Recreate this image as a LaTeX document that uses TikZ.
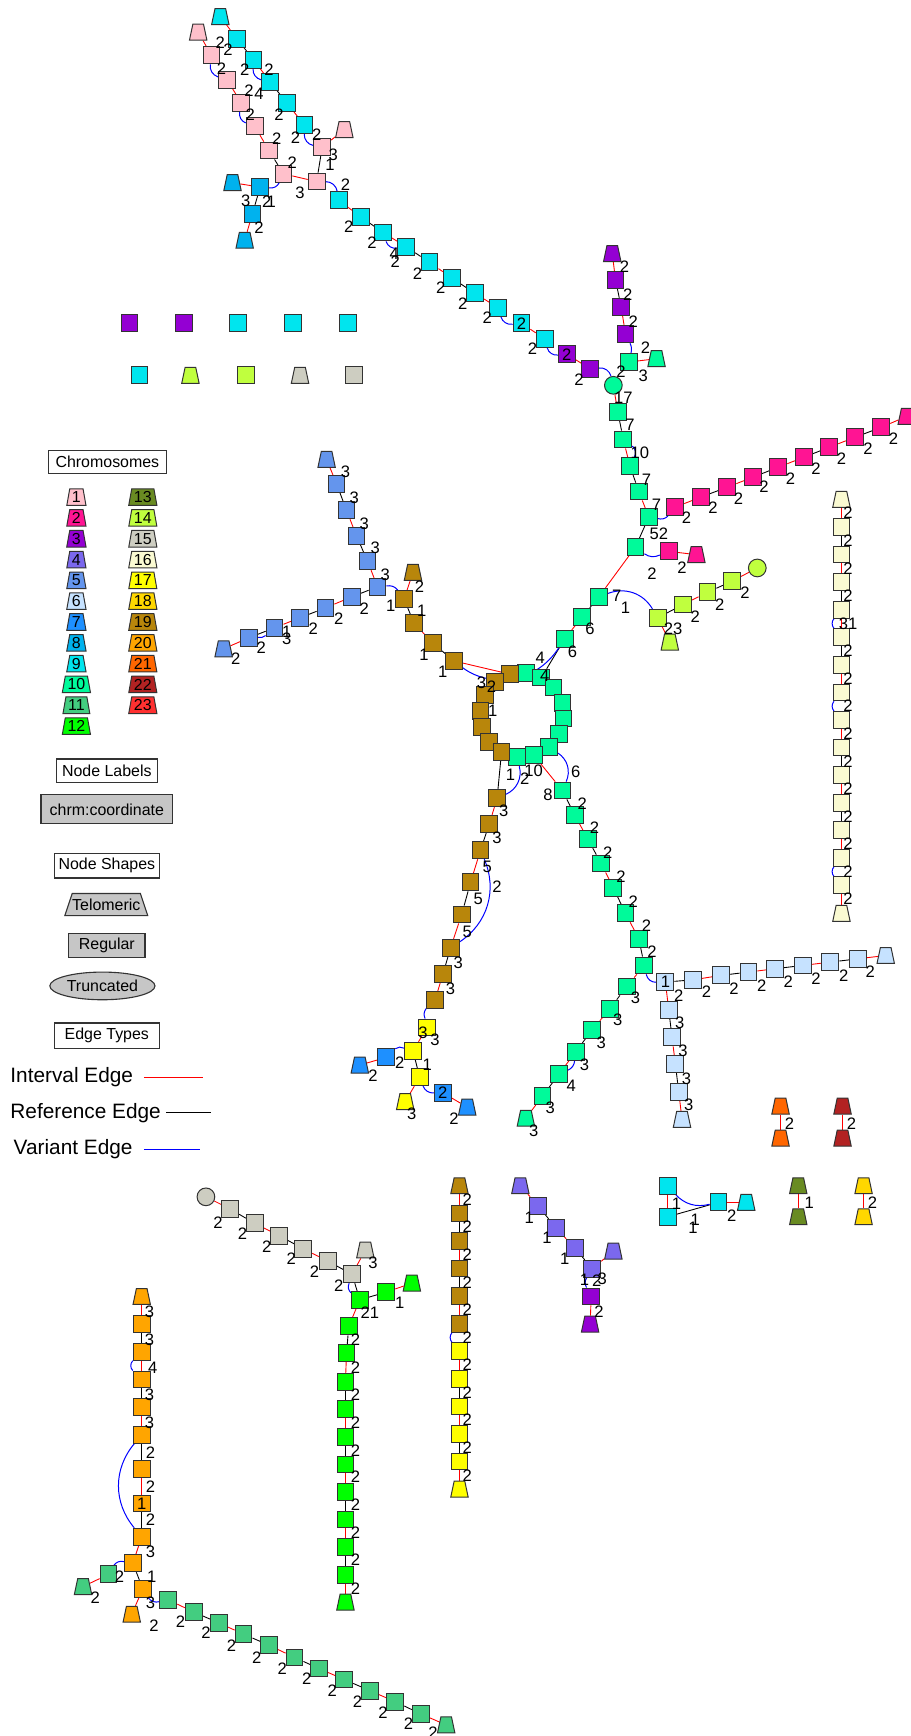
\documentclass[tikz,border=0pt]{standalone}
\usepackage{fontspec}
\setmainfont{Liberation Sans}
\usetikzlibrary{shapes.geometric, backgrounds}
\definecolor{chr1}{RGB}{255,192,203}
\definecolor{chr2}{RGB}{255,20,147}
\definecolor{chr3}{RGB}{148,0,211}
\definecolor{chr4}{RGB}{123,104,238}
\definecolor{chr5}{RGB}{100,149,237}
\definecolor{chr6}{RGB}{198,226,255}
\definecolor{chr7}{RGB}{30,144,255}
\definecolor{chr8}{RGB}{0,178,238}
\definecolor{chr9}{RGB}{0,229,238}
\definecolor{chr10}{RGB}{0,250,154}
\definecolor{chr11}{RGB}{67,205,128}
\definecolor{chr12}{RGB}{0,255,0}
\definecolor{chr13}{RGB}{105,139,34}
\definecolor{chr14}{RGB}{192,255,62}
\definecolor{chr15}{RGB}{205,205,193}
\definecolor{chr16}{RGB}{250,250,210}
\definecolor{chr17}{RGB}{255,255,0}
\definecolor{chr18}{RGB}{255,215,0}
\definecolor{chr19}{RGB}{184,134,11}
\definecolor{chr20}{RGB}{255,165,0}
\definecolor{chr21}{RGB}{255,102,0}
\definecolor{chr22}{RGB}{178,34,34}
\definecolor{chr23}{RGB}{255,48,48}
\tikzset{
  seg/.style={draw=black!80, line width=0.45pt, minimum size=7.6pt, inner sep=0pt},
  telo/.style={trapezium, trapezium angle=78, draw=black!80, line width=0.45pt,
               inner xsep=2.4pt, inner ysep=3.6pt},
  trunc/.style={circle, draw=black!80, line width=0.45pt, minimum size=8pt, inner sep=0pt},
  ie/.style={draw=red, line width=0.4pt},
  re/.style={draw=black, line width=0.4pt},
  ve/.style={draw=blue, line width=0.45pt},
  lab/.style={inner sep=0pt, font=\fontsize{7.5}{8}\selectfont},
  keybox/.style={trapezium, trapezium angle=75, trapezium stretches=true, draw=black!80,
                 line width=0.45pt, minimum height=7.5pt, inner xsep=1pt, inner ysep=0pt,
                 font=\fontsize{7.2}{8}\selectfont},
  legbox/.style={draw=black!80, line width=0.5pt, fill=white, inner sep=0pt,
                 font=\fontsize{7.2}{8}\selectfont},
  legtext/.style={inner sep=0pt, anchor=west, font=\fontsize{9.4}{11}\selectfont},
}

\begin{document}
\begin{tikzpicture}[x=0.5pt, y=-0.5pt]
  \useasboundingbox (0,0) rectangle (822,1568);

  % --- Legend ---
  \node[legbox, minimum width=53pt, minimum height=10.5pt] (chrhead) at (97,417) {Chromosomes};
  \foreach \i in {1,...,12}
    \node[keybox, fill=chr\i] (key\i) at (69,{449+18.8*(\i-1)}) {\i};
  \foreach \i in {13,...,23}
    \node[keybox, fill=chr\i] (key\i) at (129,{449+18.8*(\i-13)}) {\i};
  \node[legbox, minimum width=45.5pt, minimum height=10.5pt] (labhead) at (96.5,696) {Node Labels};
  \node[legbox, fill=gray!45, minimum width=59.5pt, minimum height=13pt] (coordkey) at (96.5,731) {chrm:coordinate};
  \node[legbox, minimum width=47.5pt, minimum height=11pt] (shapehead) at (96.5,782) {Node Shapes};
  \node[legbox, fill=gray!45, trapezium, trapezium angle=58, trapezium stretches=true,
        minimum height=10pt] (telokey) at (96,817) {Telomeric};
  \node[legbox, fill=gray!45, minimum width=34.5pt, minimum height=11pt] (regkey) at (96.5,854) {Regular};
  \node[legbox, fill=gray!45, ellipse, minimum width=47.5pt, minimum height=12.5pt] (trunckey) at (92.5,890.5) {Truncated};
  \node[legbox, minimum width=47.5pt, minimum height=11.5pt] (edgehead) at (96.5,935.5) {Edge Types};
  \node[legtext] (ivtext) at (9,973) {Interval Edge};
  \node[legtext] (rftext) at (9,1005) {Reference Edge};
  \node[legtext] (vatext) at (12,1038) {Variant Edge};
  \coordinate (iva) at (130,973);  \coordinate (ivb) at (183,973);
  \coordinate (rfa) at (150,1005); \coordinate (rfb) at (191,1005);
  \coordinate (vaa) at (130,1038); \coordinate (vab) at (181,1038);
  \draw[red, line width=0.6pt] (iva) -- (ivb);
  \draw[black, line width=0.6pt] (rfa) -- (rfb);
  \draw[blue, line width=0.6pt] (vaa) -- (vab);

  % --- Single nodes ---
  \node[seg, fill=chr3] (iso1) at (117,292) {};
  \node[seg, fill=chr3] (iso2) at (166,292) {};
  \node[seg, fill=chr9] (iso3) at (215,292) {};
  \node[seg, fill=chr9] (iso4) at (265,292) {};
  \node[seg, fill=chr9] (iso5) at (314,292) {};
  \node[seg, fill=chr9] (iso6) at (126,339) {};
  \node[telo, fill=chr14] (iso7) at (172,339) {};
  \node[seg, fill=chr14] (iso8) at (222,339) {};
  \node[telo, fill=chr15] (iso9) at (271,339) {};
  \node[seg, fill=chr15] (iso10) at (320,339) {};

  % --- Segments ---
  \foreach \n/\x/\y in {pa/191/50, pb/205/72, pc/218/93, pd/230/114, pe/243/136,
                        pf/256/157, pg/286/164, ph/291/133}
    \node[seg, fill=chr1] (\n) at (\x,\y) {};
  \foreach \n/\x/\y in {wa/610/458, wb/633/449, wc/657/440, wd/680/431, we/703/422,
                        wf/726/413, wg/749/404, wh/772/395, wi/796/386, wx/604/498}
    \node[seg, fill=chr2] (\n) at (\x,\y) {};
  \foreach \n/\x/\y in {ua/512/320, ub/533/333, uc/556/253, ud/561/277, ue/565/302, c3x/534/1171}
    \node[seg, fill=chr3] (\n) at (\x,\y) {};
  \foreach \n/\x/\y in {o1/486/1089, o2/502/1109, o3/519/1127, o4/535/1146}
    \node[seg, fill=chr4] (\n) at (\x,\y) {};
  \foreach \n/\x/\y in {v1/304/437, v2/313/461, v3/322/484, v4/332/507, v5/341/530,
                        v6/318/539, v7/294/549, v8/271/558, v9/248/567, v10/225/576}
    \node[seg, fill=chr5] (\n) at (\x,\y) {};
  \foreach \n/\x/\y in {xa/601/887, xb/626/885, xc/651/881, xd/676/878, xe/700/875, xf/725/872,
                        xg/750/869, xh/775/866, xi/604/912, xj/607/937, xk/610/961, xl/613/986}
    \node[seg, fill=chr6] (\n) at (\x,\y) {};
  \foreach \n/\x/\y in {g7a/349/955, g7b/400/987}
    \node[seg, fill=chr7] (\n) at (\x,\y) {};
  \foreach \n/\x/\y in {e1/235/169, e2/228/193}
    \node[seg, fill=chr8] (\n) at (\x,\y) {};
  \foreach \n/\x/\y in {n1/214/35, n2/229/54, n3/244/74, n4/259/93, n5/275/113, n6/306/181,
                        n7/326/196, n8/346/210, n9/367/223, n10/388/237, n11/408/251,
                        n12/429/265, n13/450/278, n14/471/292, n15/492/306,
                        c9a/603/1071, c9b/603/1099, c9c/649/1086}
    \node[seg, fill=chr9] (\n) at (\x,\y) {};
  \foreach \n/\x/\y in {tb/568/327, tc/558/372, td/563/397, te/569/421, tf/577/444, tg/586/467,
                        th/574/494, ti/541/539, tj/526/557, tk/510/577,
                        r1/475/608, r2/489/612, r3/500/621, r4/508/635, r5/509/649,
                        r6/505/663, r7/496/675, r8/482/682, r9/467/684,
                        da/508/714, db/519/736, dc/531/758, dd/543/780, de/554/802,
                        df/565/825, dg/577/848, dh/582/872,
                        la/566/891, lb/551/911, lc/535/930, ld/520/950, le/505/970, lf/490/990}
    \node[seg, fill=chr10] (\n) at (\x,\y) {};
  \foreach \n/\x/\y in {k0/98/1422, k1/152/1445, k2/175/1456, k3/198/1466, k4/220/1476,
                        k5/243/1486, k6/266/1497, k7/288/1507, k8/311/1517, k9/334/1527,
                        k10/357/1537, k11/380/1548}
    \node[seg, fill=chr11] (\n) at (\x,\y) {};
  \foreach \n/\x/\y in {m1/325/1174, m2/349/1167, m3/315/1198, m4/313/1222}
    \node[seg, fill=chr12] (\n) at (\x,\y) {};
  \foreach \k in {5,...,12}
    \node[seg, fill=chr12] (m\k) at (312,{1248+24.9*(\k-5)}) {};
  \foreach \n/\x/\y in {fa/594/558, fb/617/546, fc/639/535, fd/661/525}
    \node[seg, fill=chr14] (\n) at (\x,\y) {};
  \foreach \n/\x/\y in {h1/208/1092, h2/230/1105, h3/252/1116, h4/274/1128, h5/296/1139, h6/318/1151}
    \node[seg, fill=chr15] (\n) at (\x,\y) {};
  \foreach \k in {1,...,14}
    \node[seg, fill=chr16] (s\k) at (760,{476+24.9*(\k-1)}) {};
  \foreach \n/\x/\y in {y1/386/928, y2/373/949, y3/379/973}
    \node[seg, fill=chr17] (\n) at (\x,\y) {};
  \foreach \n/\x/\y in {b1/365/541, b2/374/563, b3/391/581, b4/410/597, b5/461/609, b6/447/616,
                        b7/438/628, b8/434/642, b9/435/657, b10/442/670, b11/453/679,
                        b12/449/721, b13/442/744, b14/434/768, b15/425/797, b16/417/826,
                        b17/407/856, b18/400/880, b19/393/903}
    \node[seg, fill=chr19] (\n) at (\x,\y) {};
  \foreach \k in {1,...,5}
    \node[seg, fill=chr19] (q\k) at (415,{1096+24.9*(\k-1)}) {};
  \foreach \k in {6,...,10}
    \node[seg, fill=chr17] (q\k) at (415,{1096+24.9*(\k-1)}) {};
  \foreach \n/\x/\y in {z1/128/1196, z2/128/1221, z3/128/1246, z4/128/1271, z5/128/1296,
                        z6/128/1327, z7/128/1358, z8/128/1388, z9/120/1412, z10/129/1435}
    \node[seg, fill=chr20] (\n) at (\x,\y) {};

  % --- Telomeric ends ---
  \foreach \n/\x/\y/\c in {pta/179/29/chr1, ptb/311/117/chr1, wt/819/376/chr2, wxt/629/501/chr2,
                           ut/553/229/chr3, c3xt/533/1196/chr3, ot1/470/1071/chr4, ot2/554/1130/chr4,
                           vt1/295/415/chr5, vt2/202/586/chr5, xt1/800/863/chr6, xt2/616/1011/chr6,
                           g7t1/325/962/chr7, g7t2/422/1000/chr7, et1/210/165/chr8, et2/221/217/chr8,
                           nt/199/15/chr9, c9t/674/1086/chr9, tt/593/324/chr10, lt/475/1010/chr10,
                           kt0/75/1433/chr11, kt/403/1558/chr11, mt1/372/1159/chr12, mt2/312/1447/chr12,
                           k13a/721/1071/chr13, k13b/721/1099/chr13, ft/605/580/chr14,
                           ht/330/1129/chr15, st1/760/451/chr16, st2/760/825/chr16,
                           yt/366/995/chr17, qt2/415/1345/chr17, k18a/780/1071/chr18, k18b/780/1099/chr18,
                           bt/373/517/chr19, qt1/415/1071/chr19, zt1/128/1171/chr20, zt2/119/1458/chr20,
                           k21a/705/999/chr21, k21b/705/1028/chr21, k22a/761/999/chr22, k22b/761/1028/chr22}
    \node[telo, fill=\c] (\n) at (\x,\y) {};

  % --- Truncated ends ---
  \node[trunc, fill=chr10] (ta) at (554,348) {};
  \node[trunc, fill=chr14] (fz) at (684,513) {};
  \node[trunc, fill=chr15] (hz) at (186,1081) {};

  % --- Edges ---
  \begin{scope}[on background layer]
    \foreach \a/\b in {pta/pa, pb/pc, pd/pe, pf/pg, ph/ptb, et1/e1, e2/et2, nt/n1, n2/n3, n4/n5,
                       n6/n7, n8/n9, n10/n11, n12/n13, n14/n15, ua/ub, ut/uc, ud/ue, tb/tt, ta/tc,
                       td/te, tf/tg, th/ti, tj/tk, r2/r3, r4/r5, r6/r7, r8/r9, r8/da, db/dc, dd/de,
                       df/dg, dh/la, lb/lc, ld/le, lf/lt, wa/wb, wc/wd, we/wf, wg/wh, wi/wt, wx/wxt,
                       fa/ft, fb/fc, fd/fz, xa/xi, xj/xk, xl/xt2, xb/xc, xd/xe, xf/xg, xh/xt1,
                       vt1/v1, v2/v3, v4/v5, v6/v7, v8/v9, v10/vt2, bt/b1, b2/b3, b4/b5, b6/b7,
                       b8/b9, b10/b11, b12/b13, b14/b15, b16/b17, b18/b19, y1/y2, y3/yt,
                       g7a/g7t1, g7b/g7t2, c9a/c9b, c9c/c9t, k13a/k13b, k18a/k18b, k21a/k21b,
                       k22a/k22b, hz/h1, h2/h3, h4/h5, h6/ht, m2/mt1, m1/m3, m4/m5, m6/m7, m8/m9,
                       m10/m11, m12/mt2, ot1/o1, o2/o3, o4/ot2, c3x/c3xt, zt1/z1, z2/z3, z4/z5,
                       z6/z7, z8/z9, z10/zt2, k0/kt0, k1/k2, k3/k4, k5/k6, k7/k8, k9/k10, k11/kt,
                       qt1/q1, q2/q3, q4/q5, q6/q7, q8/q9, q10/qt2, st1/s1, s2/s3, s4/s5, s6/s7,
                       s8/s9, s10/s11, s12/s13, s14/st2}
      \draw[ie] (\a) -- (\b);
    \foreach \a/\b in {pe/pf, ph/pg, e1/e2, n1/n2, n3/n4, n7/n8, n9/n10, n11/n12, uc/ud, tc/td,
                       te/tf, tg/th, ti/tj, tk/r2, r1/r2, r3/r4, r5/r6, r7/r8, da/db, dc/dd, de/df,
                       dg/dh, la/lb, lc/ld, le/lf, wb/wc, wd/we, wf/wg, wh/wi, fa/fb, fc/fd, xa/xb,
                       xc/xd, xe/xf, xg/xh, xi/xj, xk/xl, v1/v2, v3/v4, v5/v6, v7/v8, v9/v10,
                       b1/b2, b3/b4, b5/b6, b7/b8, b9/b10, b11/b12, b13/b14, b15/b16, b17/b18,
                       y2/y3, c9b/c9c, h1/h2, h3/h4, h5/h6, h6/m1, m1/m2, m3/m4, m5/m6, m7/m8,
                       m9/m10, m11/m12, o1/o2, o3/o4, z1/z2, z3/z4, z5/z6, z7/z8, z9/z10, k2/k3,
                       k4/k5, k6/k7, k8/k9, k10/k11, q1/q2, q3/q4, q7/q8, q9/q10, s1/s2, s3/s4,
                       s5/s6, s9/s10, s11/s12}
      \draw[re] (\a) -- (\b);
    % variant edges, right = bulge to the right of travel
    \foreach \a/\b/\t in {pa/pb/40, pc/pd/40, n2/n3/40, n5/ph/40, n8/n9/40, n13/n14/40,
                          n15/ua/40, tg/wa/30, th/wx/30, dh/xa/40, b19/y1/30, y2/g7a/30,
                          y3/g7b/35, o4/c3x/30, h6/m1/35, z2/z3/45, z5/z8/40, z9/k0/35,
                          z10/k1/35, s4/s5/40, s7/s8/40, s13/s14/40, q5/q6/40, c9a/c9c/30}
      \draw[ve] (\a) to[bend right=\t] (\b);
    \foreach \a/\b/\t in {pg/n6/40, pf/e1/35, ub/ta/40, ue/tb/20, td/te/40, ti/fa/40, v5/b1/30,
                          v9/v10/20, r7/da/40, r9/b12/40, ld/le/30, b14/b17/40}
      \draw[ve] (\a) to[bend left=\t] (\b);
    \draw[ve] (b4) .. controls (440,620) and (482,620) .. (tk);
  \end{scope}

  % --- Node labels ---
  \foreach \x/\y/\t [count=\i] in {
      199/39/2, 206/45/2, 200/62/2, 221/63/2, 243/63/2, 225/82/2, 234/85/4, 226/104/2,
      252/104/2, 250/125/2, 267/124/2, 286/122/2, 301/140/3, 298/149/1, 264/147/2, 271/174/3,
      222/181/3, 241/182/2, 245/182/1, 234/206/2, 312/167/2, 315/205/2, 336/219/2,
      356/229/4, 357/236/2, 377/247/2, 398/260/2, 418/274/2, 440/287/2, 471/292/2, 481/315/2,
      512/320/2, 523/343/2,
      564/241/2, 567/266/2, 572/291/2, 583/314/2, 581/339/3, 561/336/2, 563/359/17, 569/384/7,
      578/409/10, 584/433/7, 593/456/7, 595/482/52, 589/518/2, 616/513/2,
      620/468/2, 644/459/2, 667/450/2, 690/440/2, 714/432/2, 737/423/2, 760/414/2, 784/405/2,
      807/396/2,
      557/538/7, 565/549/1, 608/568/23, 628/557/2, 650/546/2, 673/535/2, 533/568/6, 517/589/6,
      488/594/4, 492/610/4, 435/617/3, 444/620/2, 445/642/1, 461/700/1, 474/703/2, 482/696/10,
      520/697/6, 495/718/8, 455/732/3,
      312/426/3, 320/450/3, 329/473/3, 339/495/3, 348/519/3, 329/550/2, 306/559/2, 283/568/2,
      259/571/1, 259/577/3, 236/585/2, 213/595/2,
      379/530/2, 353/547/1, 381/552/1, 383/591/1, 400/607/1,
      526/726/2, 537/748/2, 549/770/2, 561/792/2, 572/814/2, 584/836/2, 589/860/2,
      574/901/3, 558/921/3, 543/942/3, 528/962/3, 516/981/4, 497/1001/3, 482/1021/3,
      601/887/1, 613/899/2, 638/896/2, 663/893/2, 688/890/2, 712/887/2, 737/884/2, 762/881/2,
      786/878/2, 614/924/3, 617/949/3, 620/974/3, 622/998/3,
      449/757/3, 440/783/5, 449/801/2, 432/812/5, 422/842/5, 414/870/3, 407/893/3,
      382/933/3, 393/939/3, 361/960/2, 337/972/2, 386/962/1, 372/1006/3, 400/987/2, 410/1010/2,
      611/1087/1, 628/1102/1, 626/1109/1, 661/1098/2, 731/1086/1, 788/1086/2, 713/1015/2, 769/1015/2,
      197/1104/2, 219/1114/2, 241/1126/2, 263/1137/2, 284/1149/2, 306/1161/2, 337/1141/3,
      361/1177/1, 334/1186/21,
      478/1100/1, 494/1118/1, 510/1137/1, 528/1156/1, 539/1157/2, 544/1155/3, 541/1185/2,
      135/1185/3, 135/1210/3, 138/1235/4, 135/1260/3, 135/1285/3, 136/1312/2, 136/1343/2,
      128/1358/1, 136/1373/2, 136/1402/3, 137/1424/1, 108/1424/2, 86/1443/2, 136/1448/3,
      139/1468/2,
      163/1465/2, 186/1475/2, 209/1486/2, 232/1497/2, 255/1507/2, 277/1516/2, 300/1527/2,
      323/1537/2, 346/1547/2, 369/1557/2, 391/1565/2}
    \node[lab] (lab\i) at (\x,\y) {\t};
  \foreach \k/\t in {1/2, 2/2, 3/2, 4/2, 5/31, 6/2, 7/2, 8/2, 9/2, 10/2, 11/2, 12/2, 13/2, 14/2, 15/2}
    \node[lab] (labs\k) at (766,{463.5+24.9*(\k-1)}) {\t};
  \foreach \k in {1,...,11}
    \node[lab] (labq\k) at (422,{1083.5+24.9*(\k-1)}) {2};
  \foreach \y [count=\k] in {1210, 1235, 1260, 1285, 1310, 1334, 1359, 1384, 1409, 1435}
    \node[lab] (labm\k) at (321,\y) {2};
\end{tikzpicture}
\end{document}
